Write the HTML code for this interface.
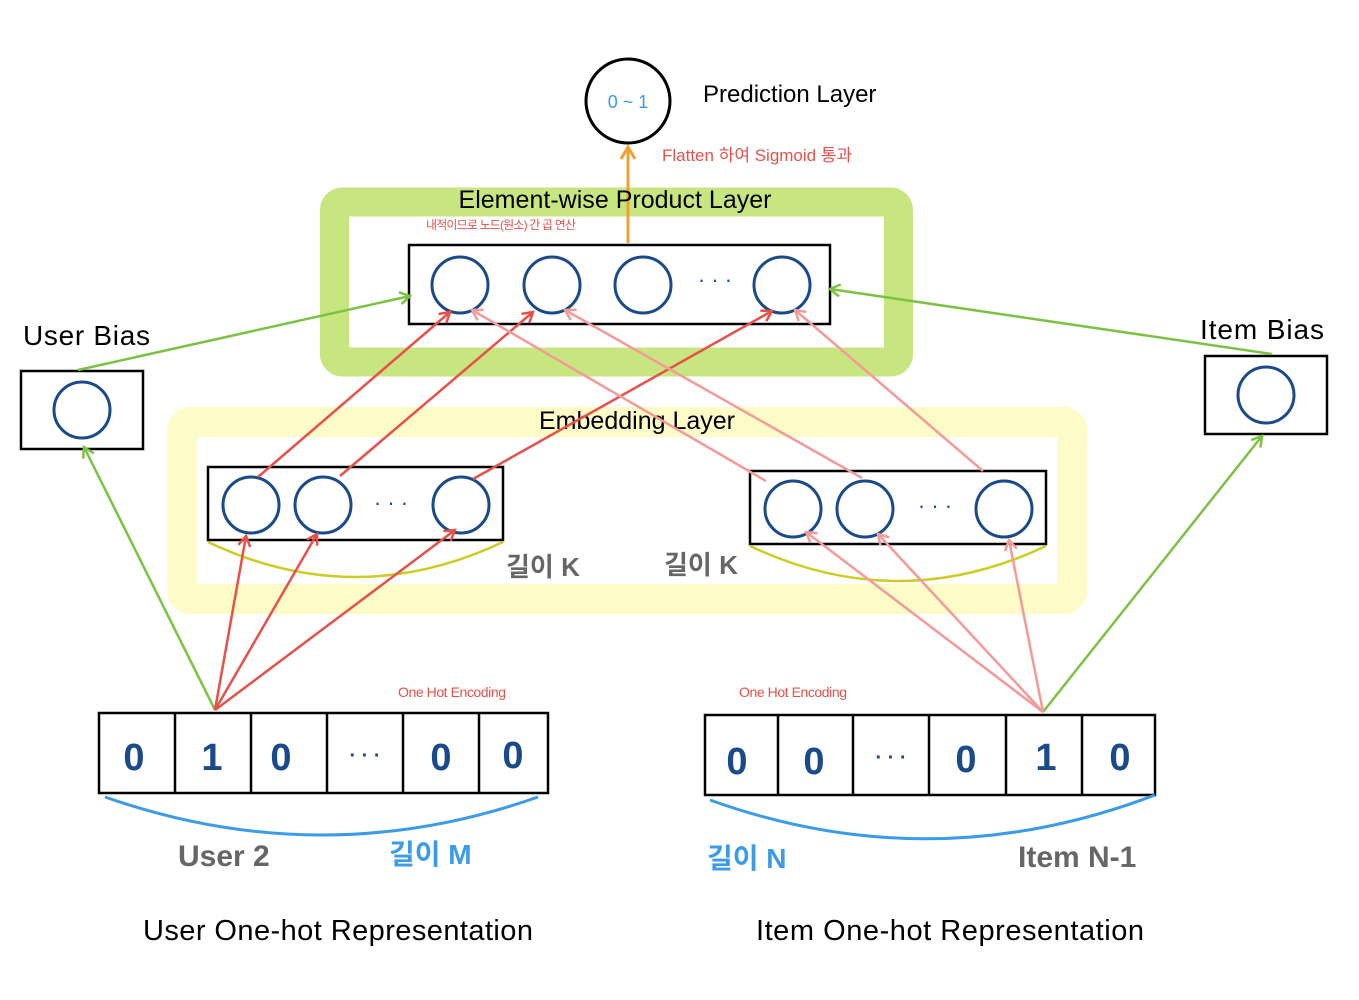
<!DOCTYPE html>
<html><head><meta charset="utf-8"><style>body{margin:0;background:#fff}svg{display:block}</style></head><body>
<svg width="1359" height="1000" viewBox="0 0 1359 1000" xmlns="http://www.w3.org/2000/svg" font-family="Liberation Sans, Noto Sans CJK KR, sans-serif">
<defs>
<marker id="r" markerWidth="14" markerHeight="14" refX="12" refY="7" orient="auto" markerUnits="userSpaceOnUse"><polyline points="2,1 12,7 2,13" fill="none" stroke="#e8504a" stroke-width="2.5"/></marker>
<marker id="p" markerWidth="14" markerHeight="14" refX="12" refY="7" orient="auto" markerUnits="userSpaceOnUse"><polyline points="2,1 12,7 2,13" fill="none" stroke="#f49a98" stroke-width="2.5"/></marker>
<marker id="g" markerWidth="14" markerHeight="14" refX="12" refY="7" orient="auto" markerUnits="userSpaceOnUse"><polyline points="2,1 12,7 2,13" fill="none" stroke="#7cc242" stroke-width="2.5"/></marker>
<marker id="o" markerWidth="16" markerHeight="16" refX="14" refY="8" orient="auto" markerUnits="userSpaceOnUse"><polyline points="2,1 14,8 2,15" fill="none" stroke="#f0a030" stroke-width="3"/></marker>
</defs>
<rect x="334.5" y="202" width="564" height="160" rx="8" fill="#fff" stroke="#c8e67f" stroke-width="29"/>
<rect x="182" y="422" width="890" height="177" rx="8" fill="#fff" stroke="#fdfcc8" stroke-width="30"/>
<circle cx="628" cy="101" r="42" fill="#fff" stroke="#000" stroke-width="3"/>
<text x="628" y="108" font-size="18" fill="#3a9be8" text-anchor="middle">0 ~ 1</text>
<text x="703" y="102" font-size="24">Prediction Layer</text>
<line x1="628" y1="243" x2="628" y2="147" stroke="#f0a030" stroke-width="3" marker-end="url(#o)"/>
<text x="662" y="161" font-size="17" fill="#e8504a">Flatten 하여 Sigmoid 통과</text>
<text x="615" y="208" font-size="25" text-anchor="middle" textLength="313">Element-wise Product Layer</text>
<text x="426" y="229" font-size="12" fill="#e8504a" textLength="150">내적이므로 노드(원소) 간 곱 연산</text>
<rect x="409" y="245" width="421" height="79" fill="none" stroke="#000" stroke-width="2.5"/>
<g fill="none" stroke="#1a4a8a" stroke-width="3">
<circle cx="460" cy="285" r="28"/><circle cx="552" cy="285" r="28"/><circle cx="643" cy="285" r="28"/><circle cx="782" cy="285" r="28"/>
<circle cx="251" cy="505" r="28"/><circle cx="323" cy="505" r="28"/><circle cx="461" cy="505" r="28"/>
<circle cx="793" cy="509" r="28"/><circle cx="865" cy="509" r="28"/><circle cx="1004" cy="509" r="28"/>
<circle cx="82" cy="410" r="28"/><circle cx="1266" cy="395" r="28"/>
</g>
<g font-size="22" fill="#1a4a8a" text-anchor="middle"><text x="715" y="287">· · ·</text><text x="391" y="510">· · ·</text><text x="935" y="513">· · ·</text></g>
<text x="637" y="429" font-size="25" text-anchor="middle" textLength="196">Embedding Layer</text>
<rect x="208" y="467" width="295" height="73" fill="none" stroke="#000" stroke-width="2.5"/>
<rect x="750" y="471" width="296" height="73" fill="none" stroke="#000" stroke-width="2.5"/>
<path d="M208 542 Q355 612 503 542" fill="none" stroke="#cccc22" stroke-width="2.5"/>
<path d="M750 546 Q898 616 1046 546" fill="none" stroke="#cccc22" stroke-width="2.5"/>
<text x="506" y="576" font-size="26" fill="#666" font-weight="bold">길이 K</text>
<text x="664" y="574" font-size="26" fill="#666" font-weight="bold">길이 K</text>
<text x="23" y="345" font-size="28" textLength="127">User Bias</text>
<rect x="21" y="371" width="122" height="78" fill="none" stroke="#000" stroke-width="2.5"/>
<text x="1200" y="339" font-size="28" textLength="124">Item Bias</text>
<rect x="1205" y="356" width="122" height="78" fill="none" stroke="#000" stroke-width="2.5"/>
<rect x="99" y="713" width="449" height="80" fill="none" stroke="#000" stroke-width="2.5"/>
<g stroke="#000" stroke-width="2.5"><line x1="175" y1="713" x2="175" y2="793"/><line x1="251" y1="713" x2="251" y2="793"/><line x1="327" y1="713" x2="327" y2="793"/><line x1="403" y1="713" x2="403" y2="793"/><line x1="479" y1="713" x2="479" y2="793"/></g>
<rect x="705" y="715" width="450" height="80" fill="none" stroke="#000" stroke-width="2.5"/>
<g stroke="#000" stroke-width="2.5"><line x1="778" y1="715" x2="778" y2="795"/><line x1="853" y1="715" x2="853" y2="795"/><line x1="929" y1="715" x2="929" y2="795"/><line x1="1006" y1="715" x2="1006" y2="795"/><line x1="1082" y1="715" x2="1082" y2="795"/></g>
<g font-size="38" font-weight="bold" fill="#1a4a8a" text-anchor="middle">
<text x="134" y="770">0</text><text x="212" y="770">1</text><text x="281" y="770">0</text><text x="365" y="762" font-size="20">· · ·</text><text x="441" y="770">0</text><text x="513" y="768">0</text>
<text x="737" y="774">0</text><text x="814" y="774">0</text><text x="891" y="764" font-size="20">· · ·</text><text x="966" y="772">0</text><text x="1046" y="770">1</text><text x="1120" y="770">0</text>
</g>
<text x="398" y="697" font-size="14" fill="#e8504a" textLength="108">One Hot Encoding</text>
<text x="739" y="697" font-size="14" fill="#e8504a" textLength="108">One Hot Encoding</text>
<path d="M105 797 Q322 873 538 797" fill="none" stroke="#3a9be8" stroke-width="3"/>
<path d="M710 800 Q932 880 1155 795" fill="none" stroke="#3a9be8" stroke-width="3"/>
<text x="178" y="866" font-size="30" fill="#666" font-weight="bold">User 2</text>
<text x="389" y="864" font-size="28" fill="#3a9be8" font-weight="bold">길이 M</text>
<text x="707" y="868" font-size="28" fill="#3a9be8" font-weight="bold">길이 N</text>
<text x="1018" y="867" font-size="30" fill="#666" font-weight="bold">Item N-1</text>
<text x="338" y="940" font-size="29" text-anchor="middle" textLength="390">User One-hot Representation</text>
<text x="950" y="940" font-size="29" text-anchor="middle" textLength="388">Item One-hot Representation</text>
<g stroke-width="2.5" fill="none">
<line x1="215" y1="710" x2="84" y2="447" stroke="#7cc242" marker-end="url(#g)"/>
<line x1="1043" y1="712" x2="1262" y2="436" stroke="#7cc242" marker-end="url(#g)"/>
<line x1="78" y1="370" x2="410" y2="296" stroke="#7cc242" marker-end="url(#g)"/>
<line x1="1272" y1="354" x2="830" y2="289" stroke="#7cc242" marker-end="url(#g)"/>
<g stroke="#e8504a">
<line x1="215" y1="710" x2="246" y2="536" marker-end="url(#r)"/>
<line x1="215" y1="710" x2="317" y2="534" marker-end="url(#r)"/>
<line x1="215" y1="710" x2="455" y2="530" marker-end="url(#r)"/>
<line x1="258" y1="477" x2="450" y2="312" marker-end="url(#r)"/>
<line x1="340" y1="476" x2="533" y2="312" marker-end="url(#r)"/>
<line x1="473" y1="479" x2="772" y2="311" marker-end="url(#r)"/>
</g>
<g stroke="#f49a98">
<line x1="1043" y1="712" x2="806" y2="532" marker-end="url(#p)"/>
<line x1="1043" y1="712" x2="878" y2="534" marker-end="url(#p)"/>
<line x1="1043" y1="712" x2="1009" y2="540" marker-end="url(#p)"/>
<line x1="766" y1="481" x2="472" y2="310" marker-end="url(#p)"/>
<line x1="862" y1="478" x2="565" y2="310" marker-end="url(#p)"/>
<line x1="983" y1="471" x2="795" y2="310" marker-end="url(#p)"/>
</g>
</g>
</svg>
</body></html>
